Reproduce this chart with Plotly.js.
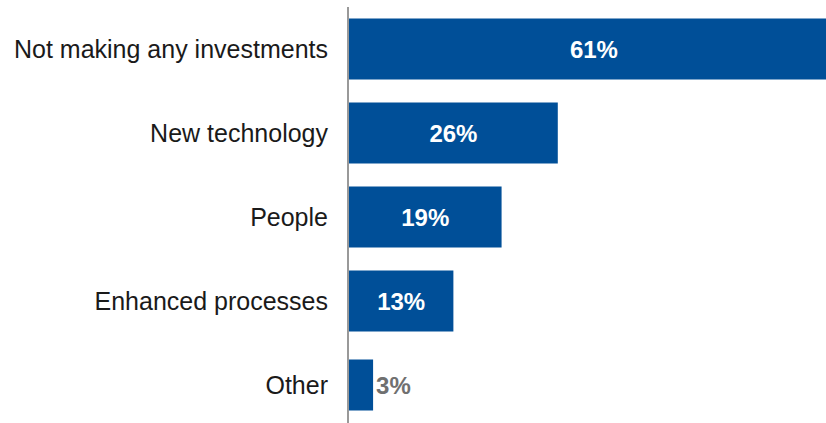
<!DOCTYPE html>
<html>
<head>
<meta charset="utf-8">
<script src="https://cdn.plot.ly/plotly-3.0.1.min.js"></script>
<style>html,body{margin:0;padding:0;background:#fff;}#chart{width:826px;height:423px;}</style>
</head>
<body>
<div id="chart"></div>
<script>
const categories = ["Not making any investments", "New technology", "People", "Enhanced processes", "Other"];
const values = [61, 26, 19, 13, 3];
const labels = ["61%", "26%", "19%", "13%", "3%"];

const trace = {
  type: "bar",
  orientation: "h",
  y: categories,
  x: values,
  text: labels,
  textposition: "auto",
  insidetextanchor: "middle",
  constraintext: "none",
  width: [0.726, 0.726, 0.726, 0.726, 0.607],
  marker: {color: "#004f98"},
  insidetextfont: {family: "Liberation Sans, Arial, sans-serif", size: 24, color: "#ffffff", weight: "bold"},
  outsidetextfont: {family: "Liberation Sans, Arial, sans-serif", size: 24, color: "#707070", weight: "bold"},
  hoverinfo: "skip"
};

const layout = {
  width: 826,
  height: 423,
  margin: {l: 349, r: 0, t: 7, b: 0},
  paper_bgcolor: "#ffffff",
  plot_bgcolor: "#ffffff",
  showlegend: false,
  xaxis: {
    range: [0, 59.4],
    visible: false,
    showgrid: false,
    zeroline: false
  },
  yaxis: {
    type: "category",
    range: [4.452, -0.5],
    showline: true,
    linecolor: "#999999",
    linewidth: 2,
    showgrid: false,
    zeroline: false,
    ticks: "outside",
    ticklen: 14,
    tickcolor: "rgba(0,0,0,0)",
    tickfont: {family: "Liberation Sans, Arial, sans-serif", size: 25, color: "#1a1a1a"}
  }
};

Plotly.newPlot("chart", [trace], layout, {displayModeBar: false, staticPlot: true});
</script>
</body>
</html>
